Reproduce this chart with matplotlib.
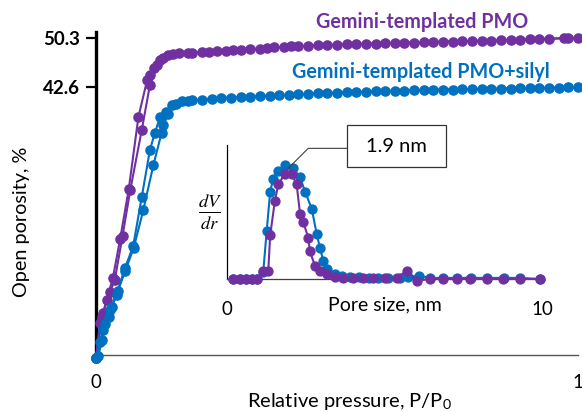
import matplotlib
matplotlib.use("Agg")
import matplotlib.pyplot as plt
from matplotlib.patches import Rectangle

# ---------------- data ----------------
# Main isotherms: relative pressure P/P0 vs open porosity (%)
pmo_ads_x = [0.0, 0.008, 0.015, 0.029, 0.039, 0.055, 0.071, 0.095, 0.112, 0.127, 0.139, 0.16, 0.19,
             0.22, 0.25, 0.285, 0.32, 0.355, 0.39, 0.42, 0.46, 0.5, 0.54, 0.58, 0.62, 0.66, 0.7,
             0.74, 0.78, 0.82, 0.86, 0.9, 0.94, 0.97, 1.0]
pmo_ads_y = [0.6, 6.0, 7.6, 10.8, 12.7, 19.5, 26.6, 36.0, 43.0, 46.0, 47.2, 47.8, 47.95,
             48.1, 48.2, 48.35, 48.5, 48.7, 48.85, 49.0, 49.1, 49.2, 49.3, 49.4, 49.5, 49.55, 49.65,
             49.7, 49.8, 49.85, 49.95, 50.05, 50.15, 50.2, 50.3]
pmo_des_x = [0.98, 0.92, 0.88, 0.84, 0.8, 0.76, 0.72, 0.68, 0.64, 0.6, 0.56, 0.52, 0.48, 0.44,
             0.405, 0.37, 0.34, 0.3, 0.27, 0.235, 0.2, 0.173, 0.15, 0.133, 0.12, 0.112, 0.106,
             0.088, 0.068, 0.05, 0.035, 0.022, 0.012, 0.0]
pmo_des_y = [50.25, 50.1, 50.0, 49.9, 49.8, 49.75, 49.7, 49.6, 49.5, 49.45, 49.35, 49.25, 49.15, 49.05,
             48.95, 48.8, 48.6, 48.45, 48.3, 48.15, 48.0, 47.9, 47.6, 46.9, 45.6, 44.5, 43.7,
             38.0, 26.8, 19.0, 13.0, 9.5, 7.0, 0.6]

sil_ads_x = [0.0, 0.005, 0.012, 0.015, 0.026, 0.033, 0.043, 0.06, 0.078, 0.098, 0.119, 0.136, 0.14,
             0.15, 0.157, 0.178, 0.2, 0.24, 0.28, 0.32, 0.36, 0.4, 0.44, 0.48, 0.52, 0.56, 0.6,
             0.64, 0.68, 0.72, 0.76, 0.8, 0.84, 0.88, 0.92, 0.96, 1.0]
sil_ads_y = [0.6, 0.8, 3.4, 4.9, 7.0, 8.5, 10.4, 14.0, 17.6, 23.5, 30.5, 35.5, 36.7,
             38.5, 39.8, 40.4, 40.6, 40.8, 41.0, 41.15, 41.3, 41.45, 41.6, 41.7, 41.8, 41.9, 42.0,
             42.1, 42.2, 42.25, 42.3, 42.35, 42.4, 42.45, 42.5, 42.55, 42.6]
sil_des_x = [0.98, 0.94, 0.9, 0.86, 0.82, 0.78, 0.74, 0.7, 0.66, 0.62, 0.58, 0.54, 0.5, 0.46,
             0.42, 0.38, 0.34, 0.3, 0.26, 0.22, 0.19, 0.165, 0.145, 0.133, 0.122, 0.112, 0.095,
             0.077, 0.06, 0.045, 0.03, 0.018, 0.008, 0.0]
sil_des_y = [42.6, 42.5, 42.45, 42.4, 42.35, 42.3, 42.25, 42.2, 42.15, 42.05, 41.95, 41.85, 41.75, 41.65,
             41.5, 41.4, 41.2, 41.1, 40.9, 40.7, 40.5, 40.0, 38.8, 38.0, 35.5, 32.9, 25.6,
             17.9, 14.5, 11.0, 8.0, 5.8, 3.0, 0.6]

y_ticks = [42.6, 50.3]
y_ticklabels = ["42.6", "50.3"]
x_ticks = [0, 1]
x_ticklabels = ["0", "1"]

# Inset: pore size distribution (normalised dV/dr)
psd_pmo_x = [0.2, 0.4, 0.6, 0.8, 0.95, 1.15, 1.31, 1.37, 1.52, 1.63, 1.84, 2.05, 2.21, 2.32, 2.42,
             2.58, 2.63, 2.79, 2.95, 3.17, 3.43, 3.69, 4.01, 4.33, 4.65, 5.02, 5.39, 5.7, 6.02,
             6.44, 6.87, 7.29, 7.71, 8.24, 8.77, 9.3, 9.94]
psd_pmo_y = [0.0, 0.0, 0.0, 0.0, 0.0, 0.075, 0.07, 0.39, 0.70, 0.85, 0.94, 0.94, 0.85, 0.58, 0.51,
             0.37, 0.25, 0.12, 0.07, 0.045, 0.02, 0.005, 0.005, 0.005, 0.005, 0.005, 0.005, 0.075, -0.015,
             0.0, 0.0, 0.0, 0.0, 0.0, 0.0, 0.0, 0.0]
psd_sil_x = [0.2, 0.4, 0.6, 0.8, 0.95, 1.15, 1.26, 1.37, 1.47, 1.63, 1.84, 2.1, 2.32, 2.48, 2.69,
             2.85, 2.95, 3.06, 3.17, 3.43, 3.64, 3.9, 4.2, 4.5, 4.8, 5.1, 5.5, 5.75, 6.1,
             6.45, 6.85, 7.3, 7.75, 8.25, 8.8, 9.3, 9.94]
psd_sil_y = [0.0, 0.0, 0.0, 0.0, 0.0, 0.06, 0.43, 0.78, 0.90, 0.97, 1.02, 0.99, 0.91, 0.78, 0.63,
             0.40, 0.28, 0.16, 0.09, 0.045, 0.03, 0.02, 0.015, 0.01, 0.01, 0.01, 0.01, 0.02, 0.03,
             0.01, 0.01, 0.01, 0.01, 0.01, 0.01, 0.01, 0.0]

purple = "#7030A0"
blue = "#0070C0"

plt.rcParams['font.family'] = ['Lato', 'DejaVu Sans']
plt.rcParams['mathtext.fontset'] = 'stix'

W, H = 582, 412
fig = plt.figure(figsize=(W / 100, H / 100), dpi=100)

# ---------------- main axes ----------------
ax = fig.add_axes([96 / W, 57 / H, 482 / W, 322.7 / H])
ms = 6.6
ax.plot(pmo_ads_x, pmo_ads_y, '-o', color=purple, lw=1.5, ms=ms, clip_on=False, zorder=3)
ax.plot(pmo_des_x, pmo_des_y, '-o', color=purple, lw=1.5, ms=ms, clip_on=False, zorder=3)
ax.plot(sil_ads_x, sil_ads_y, '-o', color=blue, lw=1.5, ms=ms, clip_on=False, zorder=4)
ax.plot(sil_des_x, sil_des_y, '-o', color=blue, lw=1.5, ms=ms, clip_on=False, zorder=4)

ax.set_xlim(0, 1)
ax.set_ylim(1.03, 51.14)
for s in ['top', 'right']:
    ax.spines[s].set_visible(False)
ax.spines['left'].set_linewidth(2.4)
ax.spines['left'].set_color('black')
ax.spines['bottom'].set_linewidth(1.0)
ax.spines['bottom'].set_color('#555555')

ax.set_yticks(y_ticks)
ax.set_yticklabels(y_ticklabels, fontsize=13.5, fontweight='bold')
ax.tick_params(axis='y', length=7.2, width=1.6, direction='out', pad=4, color='black')
ax.set_xticks(x_ticks)
ax.set_xticklabels(x_ticklabels, fontsize=13.5)
ax.tick_params(axis='x', length=0, pad=14)

fig.text(350 / W, 1 - 402 / H, "Relative pressure, P/P$_\\mathregular{0}$", ha='center', va='center',
         fontsize=14.5)
fig.text(22 / W, 1 - 222 / H, "Open porosity, %", ha='center', va='center', rotation=90,
         fontsize=14.3)

fig.text(422 / W, 1 - 22 / H, "Gemini-templated PMO", ha='center', va='center',
         fontsize=14.2, fontweight='bold', color=purple)
fig.text(421 / W, 1 - 72 / H, "Gemini-templated PMO+silyl", ha='center', va='center',
         fontsize=14.2, fontweight='bold', color=blue)

# ---------------- inset ----------------
axi = fig.add_axes([227 / W, (H - 279) / H, 315 / W, 134 / H])
ims = 6.4
axi.plot(psd_sil_x, psd_sil_y, '-o', color=blue, lw=1.5, ms=ims, clip_on=False, zorder=3)
axi.plot(psd_pmo_x, psd_pmo_y, '-o', color=purple, lw=1.5, ms=ims, clip_on=False, zorder=4)
axi.set_xlim(0, 10)
axi.set_ylim(0, 1.2)
axi.patch.set_alpha(0)
for s in ['top', 'right']:
    axi.spines[s].set_visible(False)
axi.spines['left'].set_linewidth(0.9)
axi.spines['left'].set_color('black')
axi.spines['bottom'].set_linewidth(0.9)
axi.spines['bottom'].set_color('#404040')
axi.set_yticks([])
axi.set_xticks([0, 10])
axi.set_xticklabels(["0", "10"], fontsize=13.5)
axi.tick_params(axis='x', length=0, pad=16)
fig.text(385 / W, 1 - 305 / H, "Pore size, nm", ha='center', va='center', fontsize=14)
fig.text(210 / W, 1 - 212 / H, r"$\frac{dV}{dr}$", ha='center', va='center', fontsize=19)

# annotation "1.9 nm"
axi.annotate('', xy=(1.94, 0.99), xytext=(3.81, 1.17),
             arrowprops=dict(arrowstyle='-', color='#404040', lw=0.8, shrinkA=0, shrinkB=0,
                             connectionstyle='angle,angleA=180,angleB=45,rad=0'),
             annotation_clip=False, zorder=6)
box = Rectangle((346.7 / W, (H - 166.7) / H), 99.3 / W, 41.7 / H, transform=fig.transFigure,
                facecolor='white', edgecolor='#333333', lw=0.9, zorder=7)
fig.add_artist(box)
fig.text(396 / W, 1 - 146 / H, "1.9 nm", ha='center', va='center', fontsize=14.5, zorder=8)

fig.savefig("out.png", dpi=100)
